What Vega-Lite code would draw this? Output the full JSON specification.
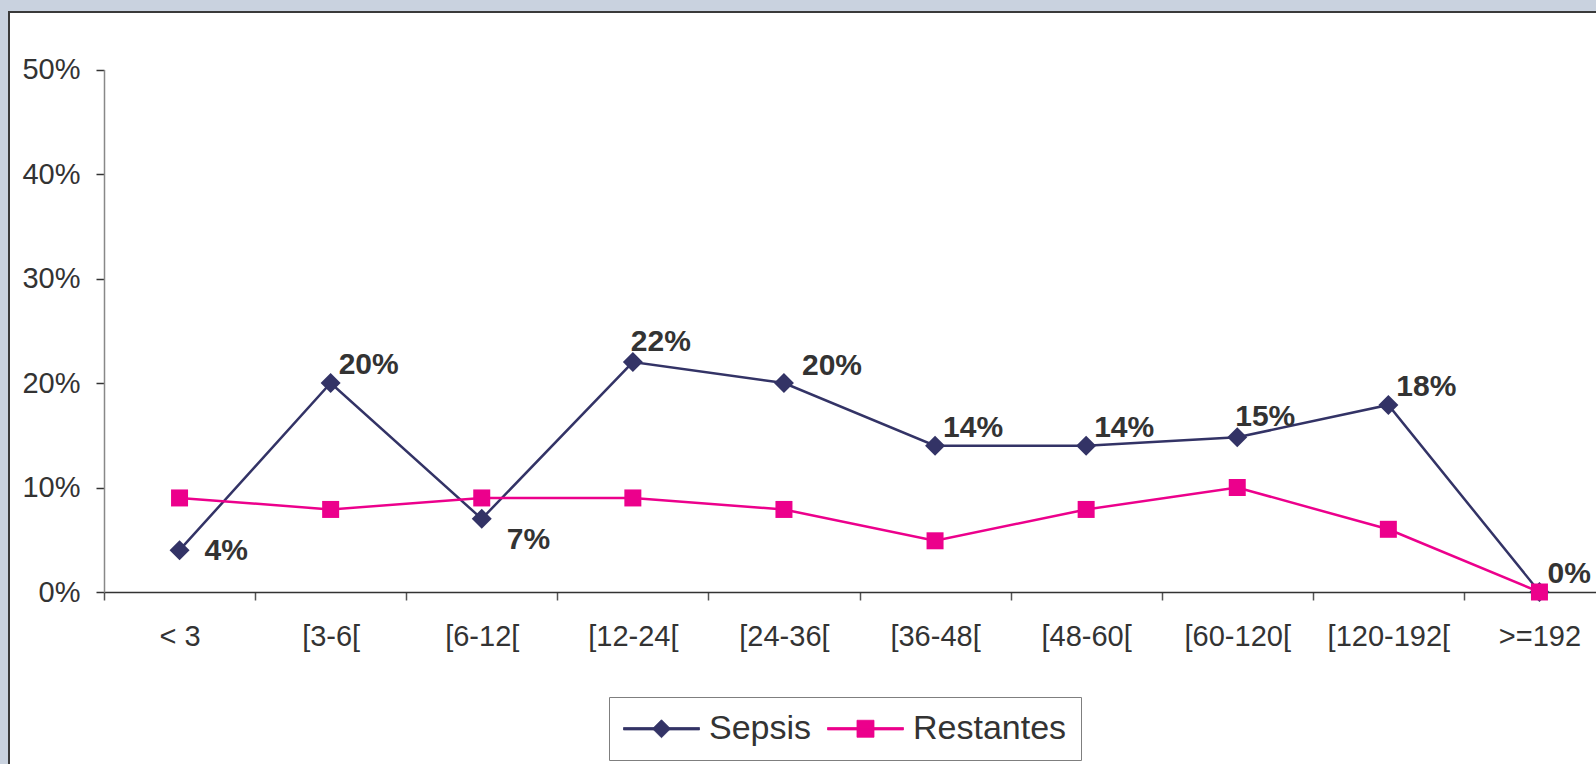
{
  "$schema": "https://vega.github.io/schema/vega-lite/v6.json",
  "width": 1610,
  "height": 770,
  "autosize": {"type": "none"},
  "padding": {"left": 9, "top": 12, "right": -23, "bottom": -18},
  "background": "#c9d2df",
  "config": {
    "view": {"fill": "white", "stroke": "#3a3a3a", "strokeWidth": 2},
    "font": "Liberation Sans",
    "legend": {
      "orient": "none",
      "legendX": 600,
      "legendY": 685,
      "direction": "horizontal",
      "title": null,
      "strokeColor": "#7f7f7f",
      "fillColor": "white",
      "padding": 14,
      "labelFont": "Liberation Sans",
      "labelFontSize": 34,
      "labelColor": "#333333",
      "labelOffset": 51,
      "columnPadding": 13,
      "symbolSize": 1156,
      "symbolOpacity": 1,
      "symbolStrokeWidth": 0.8
    }
  },
  "data": {
    "values": [
      {"grupo": "< 3", "serie": "Sepsis", "pct": 0.04},
      {"grupo": "[3-6[", "serie": "Sepsis", "pct": 0.20},
      {"grupo": "[6-12[", "serie": "Sepsis", "pct": 0.07},
      {"grupo": "[12-24[", "serie": "Sepsis", "pct": 0.22},
      {"grupo": "[24-36[", "serie": "Sepsis", "pct": 0.20},
      {"grupo": "[36-48[", "serie": "Sepsis", "pct": 0.14},
      {"grupo": "[48-60[", "serie": "Sepsis", "pct": 0.14},
      {"grupo": "[60-120[", "serie": "Sepsis", "pct": 0.148},
      {"grupo": "[120-192[", "serie": "Sepsis", "pct": 0.179},
      {"grupo": ">=192", "serie": "Sepsis", "pct": 0.0},
      {"grupo": "< 3", "serie": "Restantes", "pct": 0.09},
      {"grupo": "[3-6[", "serie": "Restantes", "pct": 0.079},
      {"grupo": "[6-12[", "serie": "Restantes", "pct": 0.09},
      {"grupo": "[12-24[", "serie": "Restantes", "pct": 0.09},
      {"grupo": "[24-36[", "serie": "Restantes", "pct": 0.079},
      {"grupo": "[36-48[", "serie": "Restantes", "pct": 0.049},
      {"grupo": "[48-60[", "serie": "Restantes", "pct": 0.079},
      {"grupo": "[60-120[", "serie": "Restantes", "pct": 0.10},
      {"grupo": "[120-192[", "serie": "Restantes", "pct": 0.06},
      {"grupo": ">=192", "serie": "Restantes", "pct": 0.0}
    ]
  },
  "encoding": {
    "x": {
      "field": "grupo",
      "type": "nominal",
      "scale": {
        "type": "band",
        "domain": ["< 3", "[3-6[", "[6-12[", "[12-24[", "[24-36[", "[36-48[", "[48-60[", "[60-120[", "[120-192[", ">=192"],
        "range": [95, 1606],
        "paddingInner": 0,
        "paddingOuter": 0
      },
      "axis": {
        "title": null,
        "orient": "bottom",
        "offset": -190,
        "tickBand": "extent",
        "labelAngle": 0,
        "labelFont": "Liberation Sans",
        "labelFontSize": 29,
        "labelColor": "#333333",
        "labelPadding": 22,
        "tickSize": 8,
        "tickColor": "#555555",
        "tickWidth": 1.5,
        "domainColor": "#333333",
        "domainWidth": 1.5,
        "grid": false
      }
    },
    "y": {
      "field": "pct",
      "type": "quantitative",
      "scale": {"domain": [0, 0.5], "range": [580, 57.5], "nice": false},
      "axis": {
        "title": null,
        "orient": "left",
        "offset": -95,
        "values": [0, 0.1, 0.2, 0.3, 0.4, 0.5],
        "format": ".0%",
        "labelFont": "Liberation Sans",
        "labelFontSize": 29,
        "labelColor": "#333333",
        "labelPadding": 16,
        "tickSize": 8,
        "tickColor": "#333333",
        "tickWidth": 1.5,
        "domainColor": "#888888",
        "domainWidth": 1.5,
        "grid": false
      }
    },
    "color": {
      "field": "serie",
      "type": "nominal",
      "scale": {"domain": ["Sepsis", "Restantes"], "range": ["#333366", "#ec008c"]}
    }
  },
  "layer": [
    {
      "mark": {"type": "line", "strokeWidth": 2.5}
    },
    {
      "transform": [{"filter": "datum.serie === 'Sepsis'"}],
      "mark": {"type": "point", "filled": true, "opacity": 1, "shape": "diamond", "size": 400}
    },
    {
      "transform": [{"filter": "datum.serie === 'Restantes'"}],
      "mark": {"type": "point", "filled": true, "opacity": 1, "shape": "square", "size": 289}
    },
    {
      "transform": [{"filter": "datum.pct > 1"}],
      "mark": {"type": "point", "filled": true, "opacity": 1},
      "encoding": {
        "shape": {
          "field": "serie",
          "type": "nominal",
          "scale": {
            "domain": ["Sepsis", "Restantes"],
            "range": [
              "M-1,-0.07L3.47,-0.07L3.47,0.07L-1,0.07ZM1.235,-0.53L1.765,0L1.235,0.53L0.705,0Z",
              "M-1,-0.07L3.47,-0.07L3.47,0.07L-1,0.07ZM0.735,-0.5L1.735,-0.5L1.735,0.5L0.735,0.5Z"
            ]
          }
        }
      }
    },
    {
      "transform": [
        {"filter": "datum.serie === 'Sepsis' && indexof(['[3-6[', '[36-48[', '[48-60[', '[120-192[', '>=192'], datum.grupo) >= 0"}
      ],
      "mark": {"type": "text", "align": "left", "baseline": "middle", "dx": 8, "dy": -18, "fontSize": 30, "fontWeight": "bold", "font": "Liberation Sans"},
      "encoding": {
        "text": {"field": "pct", "type": "quantitative", "format": ".0%"},
        "color": {"value": "#333333"}
      }
    },
    {
      "transform": [
        {"filter": "datum.serie === 'Sepsis' && (datum.grupo === '[12-24[' || datum.grupo === '[60-120[')"}
      ],
      "mark": {"type": "text", "align": "left", "baseline": "middle", "dx": -2, "dy": -20, "fontSize": 30, "fontWeight": "bold", "font": "Liberation Sans"},
      "encoding": {
        "text": {"field": "pct", "type": "quantitative", "format": ".0%"},
        "color": {"value": "#333333"}
      }
    },
    {
      "transform": [
        {"filter": "datum.serie === 'Sepsis' && datum.grupo === '[24-36['"}
      ],
      "mark": {"type": "text", "align": "left", "baseline": "middle", "dx": 18, "dy": -17, "fontSize": 30, "fontWeight": "bold", "font": "Liberation Sans"},
      "encoding": {
        "text": {"field": "pct", "type": "quantitative", "format": ".0%"},
        "color": {"value": "#333333"}
      }
    },
    {
      "transform": [
        {"filter": "datum.serie === 'Sepsis' && datum.grupo === '< 3'"}
      ],
      "mark": {"type": "text", "align": "left", "baseline": "middle", "dx": 25, "dy": 1, "fontSize": 30, "fontWeight": "bold", "font": "Liberation Sans"},
      "encoding": {
        "text": {"field": "pct", "type": "quantitative", "format": ".0%"},
        "color": {"value": "#333333"}
      }
    },
    {
      "transform": [
        {"filter": "datum.serie === 'Sepsis' && datum.grupo === '[6-12['"}
      ],
      "mark": {"type": "text", "align": "left", "baseline": "middle", "dx": 25, "dy": 21, "fontSize": 30, "fontWeight": "bold", "font": "Liberation Sans"},
      "encoding": {
        "text": {"field": "pct", "type": "quantitative", "format": ".0%"},
        "color": {"value": "#333333"}
      }
    }
  ]
}
